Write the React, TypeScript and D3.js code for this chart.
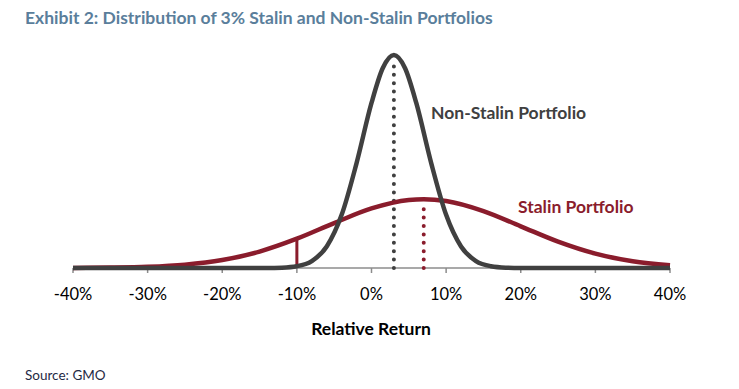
import React from 'react';
import * as d3 from 'd3';

// relative return (%) and density
const nonStalinX = [-40, -20, -14, -12, -10, -8, -6, -4, -2, 0, 1.5, 3, 4.5, 6, 8, 10, 12, 14, 16, 18, 20, 25, 40];
const nonStalinY = [0, 0.00003, 0.00003, 0.00016, 0.0008, 0.0031, 0.0096, 0.0237, 0.0468, 0.0736, 0.0891, 0.095,
  0.0891, 0.0736, 0.0468, 0.0237, 0.0096, 0.0031, 0.0008, 0.00016, 0.00003, 0, 0];

const stalinX = [-40, -35, -30, -25, -20, -15, -10, -5, 0, 5, 7, 10, 15, 20, 25, 30, 35, 40];
const stalinY = [0.00005, 0.00017, 0.00053, 0.00148, 0.00355, 0.00733, 0.01306, 0.02005, 0.02656, 0.03034, 0.0307,
  0.0299, 0.0254, 0.0186, 0.01177, 0.00642, 0.00302, 0.00122];

const xTicks = [-40, -30, -20, -10, 0, 10, 20, 30, 40];
const nonStalinMean = 3;
const stalinMean = 7;
const cutoff = -10;

const font = 'Lato, "Open Sans", sans-serif';
const grey = '#404040';
const red = '#8a1c2c';

const App = () => {
  const width = 739;
  const height = 389;

  const x = d3.scaleLinear().domain([-40, 40]).range([73, 670]);
  const y = d3.scaleLinear().domain([0, 0.095]).range([268, 55]);

  const line = d3.line<[number, number]>()
    .x(d => x(d[0]))
    .y(d => y(d[1]))
    .curve(d3.curveMonotoneX);

  const nsPts = nonStalinX.map((v, i) => [v, nonStalinY[i]] as [number, number]);
  const stPts = stalinX.map((v, i) => [v, stalinY[i]] as [number, number]);

  const nsPeak = d3.max(nonStalinY) as number;
  const stPeak = d3.max(stalinY) as number;
  // value of the stalin curve at the cutoff
  const cutVal = stalinY[stalinX.indexOf(cutoff)];

  return (
    <svg width={width} height={height} style={{ position: 'absolute', left: 0, top: 0, background: '#fff' }}>
      <text x={25} y={24} fontFamily={font} fontWeight="bold" fontSize={17.5} fill="#5a7e9b">
        Exhibit 2: Distribution of 3% Stalin and Non-Stalin Portfolios
      </text>

      {/* axis */}
      <line x1={x(-40)} x2={x(40)} y1={y(0)} y2={y(0)} stroke="#8c8c8c" strokeWidth={1.5} />
      {xTicks.map(t => (
        <g key={t}>
          <line x1={x(t)} x2={x(t)} y1={y(0)} y2={y(0) + 5} stroke="#8c8c8c" strokeWidth={1.5} />
          <text x={x(t)} y={300} textAnchor="middle" fontFamily={font} fontSize={16.5} fill="#000">
            {t + '%'}
          </text>
        </g>
      ))}

      {/* mean markers */}
      <line x1={x(nonStalinMean)} x2={x(nonStalinMean)} y1={y(0)} y2={y(nsPeak) + 4}
        stroke={grey} strokeWidth={4} strokeLinecap="round" strokeDasharray="0 8.4" />
      <line x1={x(stalinMean)} x2={x(stalinMean)} y1={y(0)} y2={y(stPeak) + 4}
        stroke={red} strokeWidth={4} strokeLinecap="round" strokeDasharray="0 8.4" />
      <line x1={x(cutoff)} x2={x(cutoff)} y1={y(0)} y2={y(cutVal)} stroke={red} strokeWidth={3} />

      <path d={line(stPts) as string} fill="none" stroke={red} strokeWidth={4.5} />
      <path d={line(nsPts) as string} fill="none" stroke={grey} strokeWidth={4.5} />

      <text x={431} y={119} fontFamily={font} fontWeight="bold" fontSize={17.5} fill={grey}>Non-Stalin Portfolio</text>
      <text x={518} y={213} fontFamily={font} fontWeight="bold" fontSize={17.5} fill={red}>Stalin Portfolio</text>

      <text x={371} y={335} textAnchor="middle" fontFamily={font} fontWeight="bold" fontSize={17.5} fill="#000">
        Relative Return
      </text>
      <text x={25} y={380} fontFamily={font} fontSize={13.5} fill="#1f2a44">Source: GMO</text>
    </svg>
  );
};

export default App;
